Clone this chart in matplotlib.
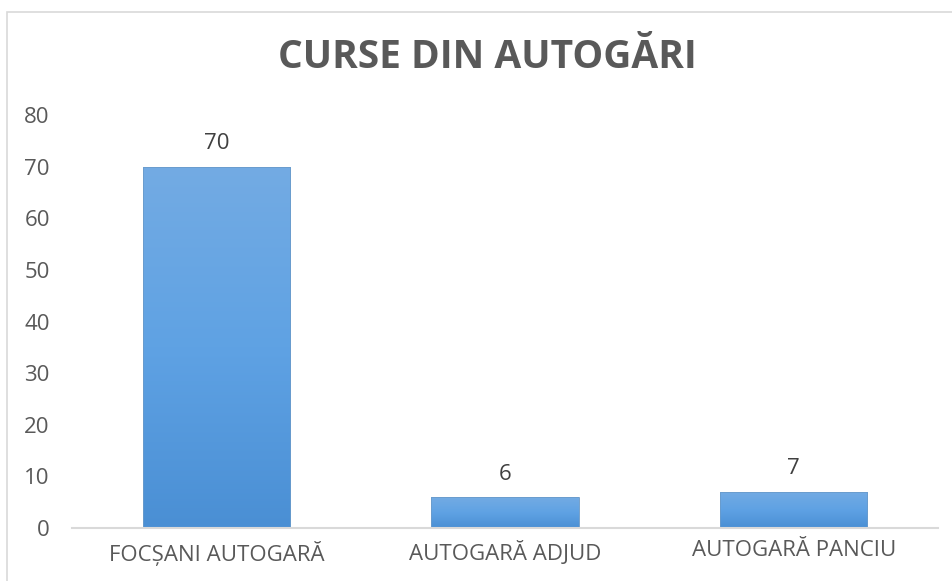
import matplotlib
matplotlib.use("Agg")
import matplotlib.pyplot as plt
import numpy as np
from matplotlib.patches import Rectangle
from matplotlib.colors import LinearSegmentedColormap

categories = ["FOCȘANI AUTOGARĂ", "AUTOGARĂ ADJUD", "AUTOGARĂ PANCIU"]
values = [70, 6, 7]
yticks = [0, 10, 20, 30, 40, 50, 60, 70, 80]
title = "CURSE DIN AUTOGĂRI"

plt.rcParams['font.family'] = ['Open Sans', 'DejaVu Sans']

fig = plt.figure(figsize=(9.52, 5.81), dpi=100)
fig.patches.append(Rectangle((7/952, -0.1), 2, 1.1 - 12/581, transform=fig.transFigure,
                             fill=False, edgecolor='#D9D9D9', linewidth=1.2))
ax = fig.add_axes([72/952, 1 - 528/581, (938 - 72)/952, (528 - 115)/581])

x = np.arange(len(categories))
bars = ax.bar(x, values, width=0.51, color='#5B9BD5', edgecolor='none', zorder=2)

cmap = LinearSegmentedColormap.from_list('g', ['#4A8FD4', '#5FA2E4', '#73ABE3'])
grad = np.linspace(0, 1, 256).reshape(-1, 1)
for b in bars:
    x0, w, h = b.get_x(), b.get_width(), b.get_height()
    sh = Rectangle((x0 + 0.004, -0.3), w, h + 0.2, facecolor='#000000', alpha=0.18,
                   edgecolor='none', zorder=1)
    ax.add_patch(sh)
    im = ax.imshow(grad, extent=[x0, x0 + w, 0, h], origin='lower', cmap=cmap,
                   aspect='auto', zorder=3)
    im.set_clip_path(b)
    b.set_facecolor('none')
    ax.add_patch(Rectangle((x0, 0), w, h, fill=False, edgecolor='#6A9BCB', linewidth=0.6, zorder=4))
    ax.annotate(str(int(h)), (x0 + w/2, h), xytext=(0, 9), textcoords='offset points',
                ha='center', va='bottom', fontsize=16, color='#404040')

ax.set_xlim(-0.5, len(categories) - 0.5)
ax.set_ylim(0, 80)
ax.set_yticks(yticks)
ax.set_xticks(x)
ax.set_xticklabels(categories)
ax.tick_params(axis='both', length=0, labelsize=16, colors='#595959')
ax.tick_params(axis='y', pad=16)
ax.tick_params(axis='x', pad=9)
for lbl in ax.get_yticklabels():
    lbl.set_horizontalalignment('right')
for s in ['top', 'right', 'left']:
    ax.spines[s].set_visible(False)
ax.spines['bottom'].set_color('#D9D9D9')
ax.spines['bottom'].set_linewidth(1.5)
ax.spines['bottom'].set_zorder(5)

fig.text((278 + 697) / 2 / 952, 1 - 57/581, title, ha='center', va='center',
         fontsize=28, fontweight='bold', color='#595959')

fig.savefig('out.png', dpi=100)
